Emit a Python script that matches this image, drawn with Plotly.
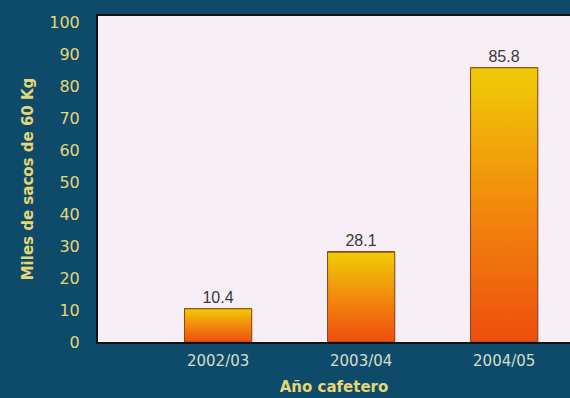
import plotly.graph_objects as go

# Producción por año cafetero (miles de sacos de 60 kg)
anios = ["2002/03", "2003/04", "2004/05"]
valores = [10.4, 28.1, 85.8]
y_ticks = [0, 10, 20, 30, 40, 50, 60, 70, 80, 90, 100]

FONDO = "#0e4b6a"
AREA = "#f8eef5"
AMARILLO = "#e6d676"
CLARO = "#d4dfc8"
ANCHO = 0.47
FUENTE = "DejaVu Sans, Verdana"

posiciones = list(range(len(anios)))

fig = go.Figure()

# Barras base con sus etiquetas de valor
fig.add_trace(go.Bar(
    x=posiciones, y=valores, width=ANCHO,
    marker=dict(color="#f07a10", line=dict(color="#8a4a20", width=1)),
    text=[f"{v:.1f}" for v in valores], textposition="outside",
    textfont=dict(family="Liberation Sans, Arial", size=16, color="#3a3a3a"),
    cliponaxis=False, showlegend=False, hoverinfo="skip",
))

# Relleno degradado (amarillo arriba, naranja-rojo abajo) de cada barra
for xc, v in zip(posiciones, valores):
    x0, x1 = xc - ANCHO / 2, xc + ANCHO / 2
    fig.add_trace(go.Scatter(
        x=[x0, x1, x1, x0, x0], y=[0, 0, v, v, 0],
        mode="lines", fill="toself",
        line=dict(color="#8a4a20", width=1),
        fillgradient=dict(
            type="vertical",
            colorscale=[[0, "#ee4e0e"], [0.5, "#f28a0c"], [1, "#f0cc06"]],
        ),
        showlegend=False, hoverinfo="skip",
    ))

fig.update_layout(
    width=570, height=398,
    margin=dict(l=98, r=0, t=16, b=56),
    paper_bgcolor=FONDO,
    plot_bgcolor=AREA,
    bargap=0,
    xaxis=dict(
        range=[-0.84, 2.46],
        tickmode="array", tickvals=posiciones, ticktext=anios,
        tickfont=dict(family=FUENTE, size=15, color=CLARO),
        showgrid=False, zeroline=False,
        showline=True, linecolor="#111111", linewidth=2, mirror=True,
        ticks="outside", ticklen=4, tickcolor=FONDO,
        title=dict(text="<b>Año cafetero</b>", standoff=12,
                   font=dict(family=FUENTE, size=15, color=AMARILLO)),
        fixedrange=True,
    ),
    yaxis=dict(
        range=[0, 102],
        tickmode="array", tickvals=y_ticks,
        tickfont=dict(family=FUENTE, size=16, color=AMARILLO),
        showgrid=False, zeroline=False,
        showline=True, linecolor="#111111", linewidth=2,
        ticks="outside", ticklen=13, tickcolor=FONDO,
        title=dict(text="<b>Miles de sacos de 60 Kg</b>", standoff=12,
                   font=dict(family=FUENTE, size=15, color=AMARILLO)),
        fixedrange=True,
    ),
)

fig.write_html("out.html")
